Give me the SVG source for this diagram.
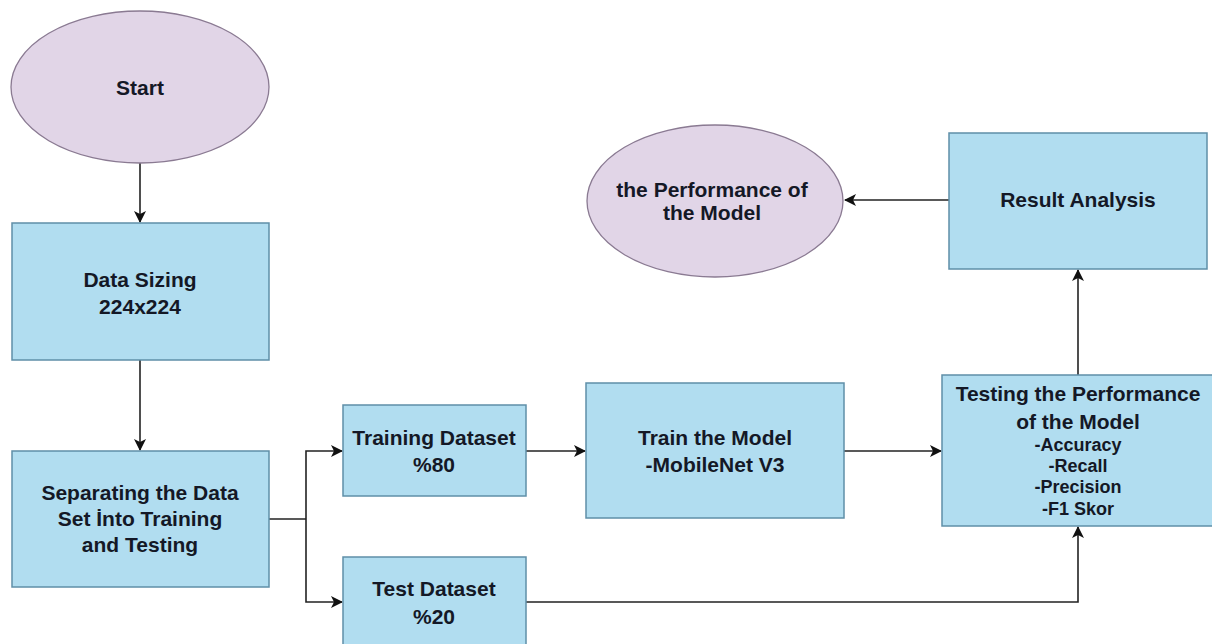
<svg xmlns="http://www.w3.org/2000/svg" width="1212" height="644" viewBox="0 0 1212 644">
<defs>
<style>
.box{fill:#b1ddf0;stroke:#5f8fa8;stroke-width:1.5}
.ell{fill:#e1d5e7;stroke:#8a7a92;stroke-width:1.3}
.t{font-family:"Liberation Sans",Arial,sans-serif;font-weight:bold;font-size:21px;fill:#141826;text-anchor:middle}
.s{font-size:18px}
.c{fill:none;stroke:#222;stroke-width:1.6}
</style>
<marker id="ah" viewBox="0 0 12 12" refX="11" refY="6" markerWidth="12" markerHeight="12" markerUnits="userSpaceOnUse" orient="auto">
<path d="M0,0 L12,6 L0,12 L3,6 Z" fill="#111"/>
</marker>
</defs>
<rect width="1212" height="644" fill="#ffffff"/>
<g id="connectors">
<path class="c" d="M140,163 L140,222" marker-end="url(#ah)"/>
<path class="c" d="M140,360 L140,450" marker-end="url(#ah)"/>
<path class="c" d="M269,519 L306,519"/>
<path class="c" d="M306,519 L306,451 L342,451" marker-end="url(#ah)"/>
<path class="c" d="M306,519 L306,602 L342,602" marker-end="url(#ah)"/>
<path class="c" d="M526,451 L585,451" marker-end="url(#ah)"/>
<path class="c" d="M844,451 L941,451" marker-end="url(#ah)"/>
<path class="c" d="M526,602 L1078,602 L1078,527" marker-end="url(#ah)"/>
<path class="c" d="M1078,375 L1078,270" marker-end="url(#ah)"/>
<path class="c" d="M949,200 L845,200" marker-end="url(#ah)"/>
</g>
<g id="start">
<ellipse class="ell" cx="140" cy="87" rx="129" ry="76"/>
<text class="t" x="140" y="95">Start</text>
</g>
<g id="data-sizing">
<rect class="box" x="12" y="223" width="257" height="137"/>
<text class="t" x="140" y="287">Data Sizing</text>
<text class="t" x="140" y="314">224x224</text>
</g>
<g id="separating">
<rect class="box" x="12" y="451" width="257" height="136"/>
<text class="t" x="140" y="500">Separating the Data</text>
<text class="t" x="140" y="526">Set İnto Training</text>
<text class="t" x="140" y="552">and Testing</text>
</g>
<g id="training">
<rect class="box" x="343" y="405" width="183" height="91"/>
<text class="t" x="434" y="445">Training Dataset</text>
<text class="t" x="434" y="472">%80</text>
</g>
<g id="test">
<rect class="box" x="343" y="557" width="183" height="100"/>
<text class="t" x="434" y="596">Test Dataset</text>
<text class="t" x="434" y="624">%20</text>
</g>
<g id="train-model">
<rect class="box" x="586" y="383" width="258" height="135"/>
<text class="t" x="715" y="445">Train the Model</text>
<text class="t" x="715" y="472">-MobileNet V3</text>
</g>
<g id="testing">
<rect class="box" x="942" y="375" width="272" height="151"/>
<text class="t" x="1078" y="401">Testing the Performance</text>
<text class="t" x="1078" y="429">of the Model</text>
<text class="t s" x="1078" y="451">-Accuracy</text>
<text class="t s" x="1078" y="472">-Recall</text>
<text class="t s" x="1078" y="493">-Precision</text>
<text class="t s" x="1078" y="515">-F1 Skor</text>
</g>
<g id="result">
<rect class="box" x="949" y="133" width="258" height="136"/>
<text class="t" x="1078" y="207">Result  Analysis</text>
</g>
<g id="performance">
<ellipse class="ell" cx="715" cy="201" rx="128" ry="76"/>
<text class="t" x="712" y="197">the Performance of</text>
<text class="t" x="712" y="220">the Model</text>
</g>
</svg>
